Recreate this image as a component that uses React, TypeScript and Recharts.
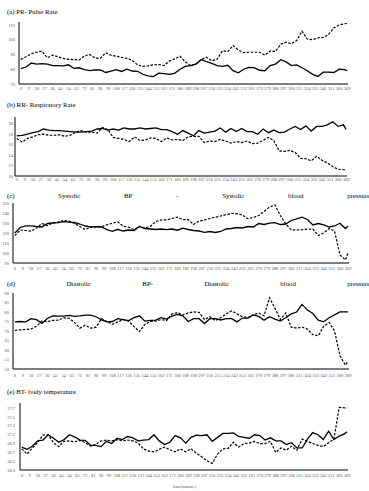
import React from 'react';
import { LineChart, Line, XAxis, YAxis } from 'recharts';

const minutes = [0, 6, 12, 18, 24, 30, 36, 42, 48, 54, 60, 66, 72, 78, 84, 90, 96, 102, 108, 114, 120, 126, 132, 138, 144, 150, 156, 162, 168, 174, 180, 186, 192, 198, 204, 210, 216, 222, 228, 234, 240, 246, 252, 258, 264, 270, 276, 282, 288, 294, 300, 306, 312, 318, 324, 330, 336, 342, 348, 354, 360, 366, 369];

const xTicks = [0, 9, 18, 27, 36, 45, 54, 63, 72, 81, 90, 99, 108, 117, 126, 135, 144, 153, 162, 171, 180, 189, 198, 207, 216, 225, 234, 243, 252, 261, 270, 279, 288, 297, 306, 315, 324, 333, 342, 351, 360, 369];

const prTicks = [70, 80, 90, 100, 110];
const rrTicks = [10, 12, 14, 16, 18, 20];
const sbpTicks = [90, 100, 110, 120, 130, 140, 150];
const dbpTicks = [50, 55, 60, 65, 70, 75, 80, 85, 90];
const btTicks = [36.3, 36.5, 36.7, 36.9, 37.1, 37.3, 37.5, 37.7];

const prSolid = [80.4, 81.5, 84.2, 83.5, 83.8, 83.5, 82.5, 82.5, 82.3, 83, 80.6, 81, 79.8, 79, 79.5, 79.5, 77.8, 78.8, 79.7, 78.5, 80, 78.8, 78.6, 76.6, 75.5, 75, 77.3, 77, 76.5, 77.2, 80, 81.9, 82.5, 83.5, 86.5, 85.2, 84, 82.5, 82, 82.7, 79, 77.6, 80, 81.2, 81, 79.3, 79, 82.5, 83.5, 86.5, 85, 82.5, 83, 81, 79, 76.5, 75.1, 78, 78, 77.8, 80, 79.8, 79];
const prDashed = [86.7, 88.5, 90.5, 91.5, 92.3, 87.8, 89.5, 88.5, 87.3, 86.7, 86.5, 86.3, 89, 90, 87.5, 87.5, 91.2, 89.5, 88.8, 88, 87.4, 86, 83, 81.9, 82.3, 83, 83.2, 82.5, 85.5, 87, 88.8, 85, 82.5, 83.5, 86.5, 88.2, 85.7, 86.7, 92.5, 92, 96, 93, 91.3, 91.5, 91.5, 91.5, 89.5, 92.4, 92, 97, 98.3, 97.3, 99.5, 105.8, 100.5, 100, 101.3, 101.5, 103.6, 108, 110, 110.8, 111];

const rrSolid = [17.7, 17.8, 18, 18.3, 18.5, 19, 18.8, 18.7, 18.7, 18.6, 18.5, 18.4, 18.4, 18.5, 18.6, 19, 19.1, 18.8, 19, 18.8, 19.2, 19, 19, 19.2, 19, 19.1, 19.2, 18.9, 18.9, 18.5, 18, 18.7, 18.2, 17.7, 18.7, 18.2, 18.4, 18.6, 19.2, 18.4, 19.1, 18.5, 19.1, 18.5, 18.5, 18, 19, 18.3, 18.8, 18.3, 18.4, 19, 19.5, 18.9, 19.6, 18.6, 19.5, 19.5, 19.8, 20.4, 19.5, 19.8, 18.9];
const rrDashed = [17.2, 16.5, 17.2, 17.5, 17.9, 18, 17.8, 17.8, 17.9, 17.6, 17.8, 18.4, 18.7, 18.4, 18.4, 18.2, 19.3, 18.9, 17.4, 17.2, 17, 16.6, 17.5, 16.8, 16.9, 17.3, 17.2, 16.6, 17.3, 16.9, 17, 16.8, 17.5, 17.6, 17.6, 16.4, 16.7, 16.6, 17, 16.7, 16.3, 16.6, 16.4, 16.7, 16.2, 16.3, 16.8, 17.4, 16.8, 14.8, 14.7, 14.9, 14.5, 13.4, 13.3, 12.9, 13.8, 13, 12.5, 11.8, 11.3, 11.2, 11.2];

const sbpSolid = [120, 125.5, 127.2, 127.2, 126.5, 126, 129.5, 130, 130.3, 131.4, 130.8, 130.5, 129, 127, 126, 126.4, 126, 123.3, 121.6, 123.7, 122, 123, 122.5, 126.5, 124.5, 124, 123.5, 124, 123.3, 124, 122.8, 124.9, 123.5, 122.5, 122, 120.7, 121.5, 120.5, 121.5, 124, 124.5, 125.5, 125, 126.5, 126, 129.5, 128.5, 129.8, 130.4, 128.5, 129, 132.5, 134.2, 135.8, 133.5, 128, 129.5, 128.2, 126, 127, 129.8, 124.5, 127];
const sbpDashed = [117.4, 123, 122.5, 121.8, 124.9, 129.5, 127.5, 130, 131, 132.5, 132, 129.5, 126.5, 123.5, 125.9, 126, 126.4, 128.2, 129.8, 131, 126.8, 125.9, 123.3, 126.5, 125, 126.5, 131.4, 133, 133.2, 134.5, 135.8, 133.5, 133.3, 128.5, 132, 133, 134.5, 135.8, 137, 138.3, 139.6, 139.3, 138, 134.3, 135.5, 137.5, 141.5, 146, 148, 137.5, 129, 123.3, 123, 123.3, 124, 123.9, 117.5, 120, 124.5, 122, 98, 93, 100.4];

const dbpSolid = [74.8, 75, 74.8, 76.5, 76, 74, 76.6, 78, 77.8, 77.8, 78.2, 77.7, 78, 78.4, 78.4, 77.5, 75.9, 74.8, 75, 76.5, 76, 75.5, 77, 78, 75.2, 75.6, 75.7, 77, 76.3, 77.8, 78.7, 78, 75, 76.5, 76.5, 73.9, 76.5, 76.5, 75.8, 76.5, 76.5, 74.8, 76.8, 76.8, 78.5, 77.7, 75.7, 77.5, 76.3, 75.2, 77, 79, 80, 84, 81, 79.2, 75.7, 74.8, 77, 78.5, 80.1, 80.1, 80.1];
const dbpDashed = [70.3, 70.6, 70.8, 71.1, 72.5, 75.2, 74.9, 75.6, 75.7, 76.9, 76.7, 74.5, 71.5, 73, 71.5, 72, 76.5, 75, 73.5, 74.8, 75.9, 75.2, 72.3, 69.7, 73.5, 75, 75.2, 76, 75.5, 79, 79.7, 78.4, 79.5, 80.1, 79.8, 76, 77.5, 75.5, 77, 79, 80.6, 79, 77.5, 77, 78.5, 79.5, 78, 87.5, 82, 76, 79.5, 72, 71.5, 72, 71, 68, 67.5, 72.5, 74.5, 70, 57, 52, 54.1];

const btSolid = [36.82, 36.77, 36.84, 36.96, 36.98, 37.1, 37.02, 36.93, 36.99, 37.1, 37.05, 36.98, 36.97, 36.86, 36.86, 36.83, 36.95, 36.9, 37.02, 36.99, 37.06, 37.03, 36.96, 36.98, 36.99, 37.1, 36.96, 36.88, 36.93, 37.08, 37.03, 36.91, 37.04, 37.09, 37.08, 37.1, 36.95, 37.04, 37.13, 37.13, 37.14, 37.06, 37.04, 37.02, 37.1, 37.08, 36.98, 37.03, 36.96, 36.96, 36.88, 36.92, 36.8, 36.8, 37, 37.15, 37.1, 36.99, 37.18, 36.99, 37.07, 37.12, 37.17];
const btDashed = [36.78, 36.66, 36.8, 36.92, 37.09, 37.1, 36.92, 36.83, 36.95, 36.96, 36.94, 36.97, 36.92, 36.84, 36.88, 36.96, 36.98, 36.96, 36.99, 36.96, 36.98, 36.96, 36.91, 36.78, 36.73, 36.71, 36.77, 36.82, 36.76, 36.71, 36.78, 36.71, 36.78, 36.68, 36.6, 36.51, 36.45, 36.66, 36.78, 36.79, 36.93, 36.82, 36.9, 36.91, 36.95, 36.9, 36.9, 36.95, 36.7, 36.8, 36.75, 36.84, 36.75, 37, 36.95, 36.9, 36.86, 36.83, 36.92, 37.0, 37.72, 37.71, 37.71];

const FONT = '"Liberation Serif", "Times New Roman", serif';
const TICK_FS = 4.4;
const TITLE_FS = 6.8;

type PanelProps = {
  boxLeft: number; boxRight: number; boxTop: number; boxBottom: number;
  yDomain: [number, number]; yTicks: number[]; solid: number[]; dashed: number[];
  yMargin: number; xMargin: number;
};

function Panel(p: PanelProps) {
  const data = minutes.map((m, i) => ({ m, s: p.solid[i], d: p.dashed[i] }));
  const padTop = 4;
  const xAxisH = 14;
  const h = p.boxBottom - p.boxTop + padTop + xAxisH;
  const tickStyle = { fontSize: TICK_FS, fill: '#555', fontFamily: FONT };
  return (
    <div style={{ position: 'absolute', left: 0, top: p.boxTop - padTop }}>
      <LineChart width={369} height={h} data={data}
        margin={{ top: padTop, right: 369 - p.boxRight, bottom: 0, left: 0 }}>
        <XAxis dataKey="m" type="number" domain={[-2, 370]} ticks={xTicks} interval={0}
          tick={tickStyle} tickLine={false} tickSize={0} tickMargin={p.xMargin} height={xAxisH}
          axisLine={{ stroke: '#000', strokeWidth: 1 }} allowDataOverflow />
        <XAxis xAxisId="top" orientation="top" type="number" domain={[0, 1]} tick={false}
          tickLine={false} height={0} axisLine={{ stroke: '#000', strokeWidth: 1 }} />
        <YAxis type="number" domain={p.yDomain} ticks={p.yTicks} interval={0} width={p.boxLeft}
          tick={tickStyle} tickLine={false} tickSize={0} tickMargin={p.yMargin}
          axisLine={{ stroke: '#000', strokeWidth: 1 }} allowDataOverflow />
        <YAxis yAxisId="right" orientation="right" type="number" domain={[0, 1]} tick={false}
          tickLine={false} width={0} axisLine={{ stroke: '#000', strokeWidth: 1 }} />
        <Line dataKey="s" type="linear" stroke="#000" strokeWidth={1.3} dot={false} isAnimationActive={false} />
        <Line dataKey="d" type="linear" stroke="#000" strokeWidth={1.2} strokeDasharray="2.5 1.5" dot={false} isAnimationActive={false} />
      </LineChart>
    </div>
  );
}

function Title({ y, text }: { y: number; text: string }) {
  return (
    <div style={{ position: 'absolute', left: 7, top: y - TITLE_FS / 2, fontSize: TITLE_FS, lineHeight: `${TITLE_FS}px`, fontFamily: FONT, color: '#000', whiteSpace: 'nowrap' }}>{text}</div>
  );
}

function Justified({ y, words }: { y: number; words: string[] }) {
  return (
    <div style={{ position: 'absolute', left: 7, width: 363, top: y - TITLE_FS / 2, fontSize: TITLE_FS, lineHeight: `${TITLE_FS}px`, fontFamily: FONT, color: '#000', display: 'flex', justifyContent: 'space-between', whiteSpace: 'nowrap' }}>
      {words.map((w, i) => <span key={i}>{w}</span>)}
    </div>
  );
}

export default function App() {
  return (
    <div style={{ position: 'absolute', left: 0, top: 0, width: 369, height: 491, background: '#fff', overflow: 'hidden' }}>
      <Title y={12} text="(a) PR- Pulse Rate" />
      <Panel boxLeft={19} boxRight={348} boxTop={22} boxBottom={84} yDomain={[70, 112]} yTicks={prTicks} solid={prSolid} dashed={prDashed} yMargin={4} xMargin={3} />
      <Title y={105} text="(b) RR- Respiratory Rate" />
      <Panel boxLeft={15} boxRight={347} boxTop={117} boxBottom={176} yDomain={[10, 21.3]} yTicks={rrTicks} solid={rrSolid} dashed={rrDashed} yMargin={2} xMargin={2} />
      <Justified y={196} words={['(c)', 'Systolic', 'BP', '-', 'Systolic', 'blood', 'pressure']} />
      <Panel boxLeft={13} boxRight={349} boxTop={203} boxBottom={263} yDomain={[90, 150]} yTicks={sbpTicks} solid={sbpSolid} dashed={sbpDashed} yMargin={4} xMargin={4} />
      <Justified y={284} words={['(d)', 'Diastolic', 'BP-', 'Diastolic', 'blood', 'pressure']} />
      <Panel boxLeft={13} boxRight={349} boxTop={293} boxBottom={369} yDomain={[50, 90]} yTicks={dbpTicks} solid={dbpSolid} dashed={dbpDashed} yMargin={4} xMargin={5} />
      <Title y={392} text="(e) BT- body temperature" />
      <Panel boxLeft={20} boxRight={348} boxTop={403} boxBottom={470} yDomain={[36.3, 37.82]} yTicks={btTicks} solid={btSolid} dashed={btDashed} yMargin={5} xMargin={4} />
      <div style={{ position: 'absolute', left: 0, width: 369, textAlign: 'center', top: 485, fontSize: TICK_FS, lineHeight: `${TICK_FS}px`, fontFamily: FONT, color: '#555' }}>time(minute)</div>
    </div>
  );
}
